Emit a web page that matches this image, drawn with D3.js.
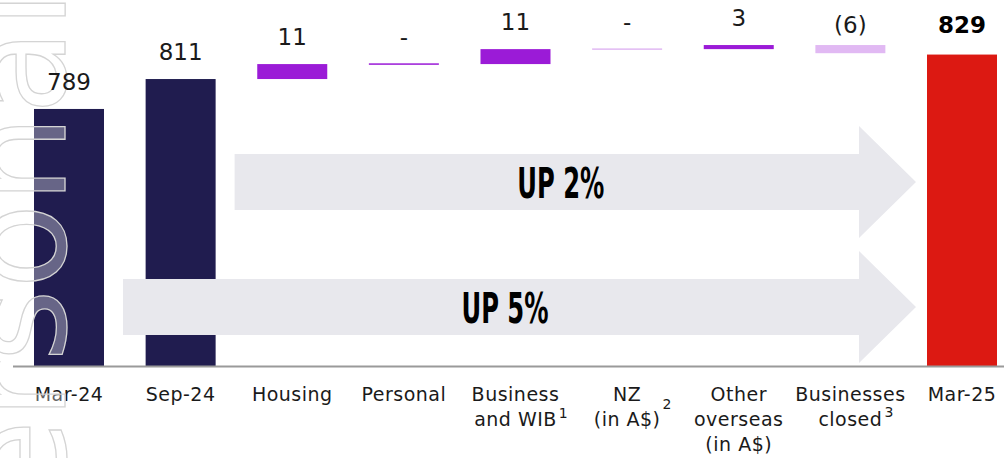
<!DOCTYPE html>
<html>
<head>
<meta charset="utf-8">
<script src="https://cdn.jsdelivr.net/npm/d3@7"></script>
<style>
  body { margin: 0; background: #fff; }
  svg { display: block; }
</style>
</head>
<body>
<svg id="chart"></svg>
<script>
// waterfall data
const categories = ["Mar-24", "Sep-24", "Housing", "Personal", "Business and WIB", "NZ", "Other overseas", "Businesses closed", "Mar-25"];
const axisLines = [["Mar-24"], ["Sep-24"], ["Housing"], ["Personal"], ["Business", "and WIB"], ["NZ", "(in A$)"], ["Other", "overseas", "(in A$)"], ["Businesses", "closed"], ["Mar-25"]];
const footnotes = [null, null, null, null, "1", "2", null, "3", null];
const kinds = ["total", "total", "delta", "delta", "delta", "delta", "delta", "delta", "final"];
const groups = ["total", "total", "core", "core", "core", "minor", "core", "minor", "final"];
const values = [789, 811, 11, 0, 11, 0, 3, -6, 829];
const valueLabels = ["789", "811", "11", "-", "11", "-", "3", "(6)", "829"];
const growth = [
  { from: "Sep-24", to: "Mar-25", label: "UP 2%" },
  { from: "Mar-24", to: "Mar-25", label: "UP 5%" }
];

const width = 1004, height = 458;
const baseY = 366;
const barW = 70;
const colors = { total: "#201c4f", core: "#9b1bd7", minor: "#e1b9f3", final: "#dc1912" };

const svg = d3.select("#chart").attr("width", width).attr("height", height);

const x = d3.scalePoint().domain(categories).range([69, 962]);
const y = d3.scaleLinear().domain([600, 800]).range([baseY, 94]);

// build the waterfall steps
let running = 0;
const steps = categories.map((c, i) => {
  let lo, hi;
  if (kinds[i] === "delta") {
    lo = Math.min(running, running + values[i]);
    hi = Math.max(running, running + values[i]);
    running += values[i];
  } else {
    lo = y.domain()[0];
    hi = values[i];
    running = values[i];
  }
  return { cat: c, lo, hi, i };
});

svg.selectAll("rect.bar")
  .data(steps)
  .enter().append("rect")
  .attr("class", "bar")
  .attr("x", d => x(d.cat) - barW / 2)
  .attr("width", barW)
  .attr("y", d => y(d.hi) - (d.hi === d.lo ? 0.75 : 0))
  .attr("height", d => Math.max(1.5, y(d.lo) - y(d.hi)))
  .attr("fill", d => colors[groups[d.i]]);

// growth arrows
const arrowRows = [182, 307];
growth.forEach((g, k) => {
  const cy = arrowRows[k];
  const left = x(g.from) + barW / 2 + 19;
  const tip = x(g.to) - barW / 2 - 11;
  const head = tip - 57;
  const path = d3.path();
  path.moveTo(left, cy - 28);
  path.lineTo(head, cy - 28);
  path.lineTo(head, cy - 56);
  path.lineTo(tip, cy);
  path.lineTo(head, cy + 56);
  path.lineTo(head, cy + 28);
  path.lineTo(left, cy + 28);
  path.closePath();
  svg.append("path").attr("d", path.toString()).attr("fill", "#e8e8ed");

  svg.append("text")
    .attr("x", (left + head) / 2 + 14)
    .attr("y", cy + 16)
    .attr("text-anchor", "middle")
    .attr("textLength", 87)
    .attr("lengthAdjust", "spacingAndGlyphs")
    .style("font-family", "'Liberation Sans Narrow', 'DejaVu Sans Condensed', sans-serif")
    .style("font-weight", "bold")
    .style("font-size", "42px")
    .style("fill", "#000")
    .text(g.label);
});

// axis line
svg.append("line")
  .attr("x1", 13).attr("x2", width)
  .attr("y1", baseY + 0.5).attr("y2", baseY + 0.5)
  .style("stroke", "#9a9a9a")
  .style("stroke-width", 2);

// category labels, with footnote marks on the last line
const supShift = { "1": -8, "2": -17, "3": -9 };
categories.forEach((c, i) => {
  const lines = axisLines[i];
  lines.forEach((ln, j) => {
    const t = svg.append("text")
      .attr("x", x(c))
      .attr("y", 401 + j * 25)
      .attr("text-anchor", "middle")
      .style("font-family", "'DejaVu Sans', sans-serif")
      .style("font-size", "19px")
      .style("letter-spacing", "0.5px")
      .style("fill", "#1a1a1a")
      .text(ln);
    if (footnotes[i] && j === lines.length - 1) {
      const len = t.node().getComputedTextLength();
      svg.append("text")
        .attr("x", x(c) + len / 2 + 2)
        .attr("y", 401 + j * 25 + supShift[footnotes[i]])
        .style("font-family", "'DejaVu Sans', sans-serif")
        .style("font-size", "14px")
        .style("fill", "#1a1a1a")
        .text(footnotes[i]);
    }
  });
});

// faint outlined watermark down the left edge
svg.append("text")
  .attr("transform", "translate(65,-10) rotate(-90)")
  .attr("text-anchor", "end")
  .style("font-family", "'DejaVu Sans', sans-serif")
  .style("font-size", "140px")
  .style("fill", "#fff")
  .style("fill-opacity", 0.32)
  .style("stroke", "#d4d4d4")
  .style("stroke-width", 1.3)
  .text("Personal");

// value labels
svg.selectAll("text.val")
  .data(steps)
  .enter().append("text")
  .attr("class", "val")
  .attr("x", d => x(d.cat))
  .attr("y", d => {
    if (kinds[d.i] === "final") return y(d.hi) - 22;
    if (values[d.i] < 0) return y(d.hi) - 12;
    return y(d.hi) - 19;
  })
  .attr("text-anchor", "middle")
  .style("font-family", "'DejaVu Sans', sans-serif")
  .style("font-size", "23px")
  .style("font-weight", d => kinds[d.i] === "final" ? "bold" : "normal")
  .style("fill", d => kinds[d.i] === "final" ? "#000" : "#1a1a1a")
  .text(d => valueLabels[d.i]);
</script>
</body>
</html>
